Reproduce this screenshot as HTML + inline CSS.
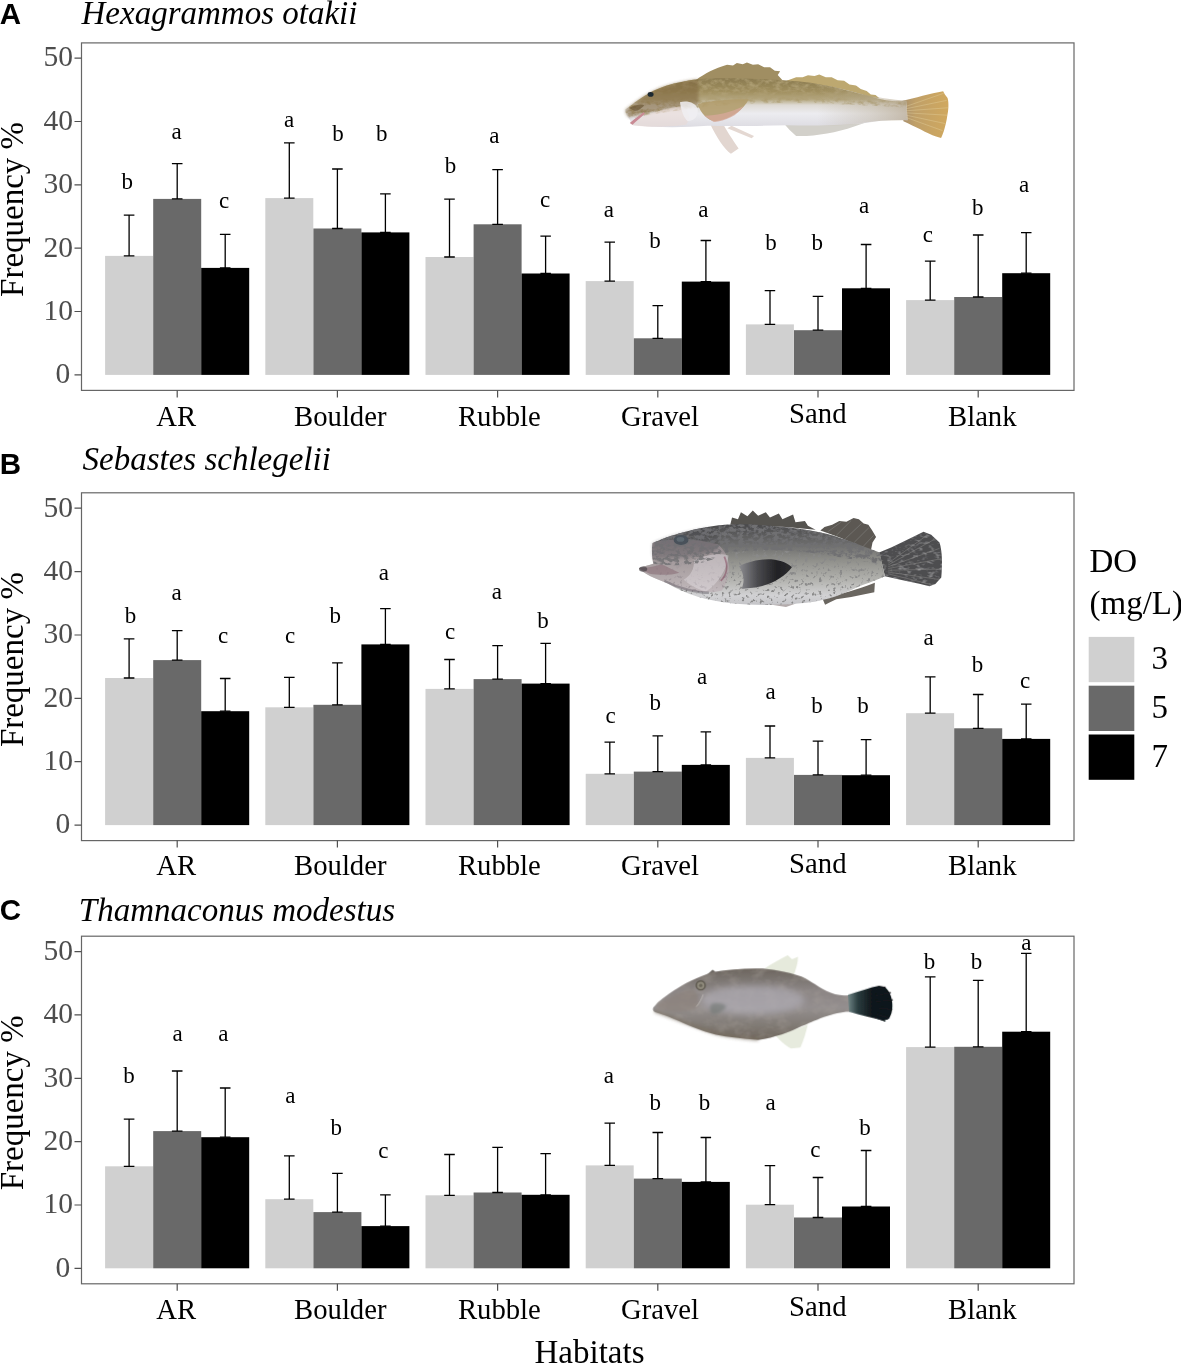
<!DOCTYPE html>
<html lang="en">
<head>
<meta charset="utf-8">
<title>Habitat frequency by dissolved oxygen</title>
<style>
html,body{margin:0;padding:0;background:#fff;}
body{width:1181px;height:1365px;overflow:hidden;}
svg{display:block;}
text{font-family:"Liberation Serif","Times New Roman",serif;fill:#000;}
.tag{font-family:"Liberation Sans",Arial,sans-serif;font-weight:bold;font-size:29.5px;}
.ttl{font-style:italic;font-size:33px;}
.ytl{font-size:33px;text-anchor:middle;}
.xtl{font-size:33px;text-anchor:middle;}
.ytk{font-size:29.5px;fill:#4d4d4d;text-anchor:end;}
.xtk{font-size:28.7px;text-anchor:middle;}
.let{font-size:23px;text-anchor:middle;}
.lgt{font-size:33px;}
.eb{fill:none;stroke:#000;stroke-width:1.3;}
.pb{fill:none;stroke:#666;stroke-width:1.2;}
.tk{fill:none;stroke:#505050;stroke-width:1.2;}
</style>
</head>
<body>
<svg width="1181" height="1365" viewBox="0 0 1181 1365">
<rect width="1181" height="1365" fill="#fff"/>
<defs>
<filter id="soft" x="-5%" y="-10%" width="110%" height="120%"><feGaussianBlur stdDeviation="2.4"/></filter>
<filter id="soft2" x="-30%" y="-30%" width="160%" height="160%"><feGaussianBlur stdDeviation="14"/></filter>
<filter id="soft3" x="-30%" y="-30%" width="160%" height="160%"><feGaussianBlur stdDeviation="6"/></filter>
<filter id="motA" x="0" y="0" width="100%" height="100%">
<feTurbulence type="fractalNoise" baseFrequency="0.045 0.07" numOctaves="3" seed="7"/>
<feColorMatrix type="matrix" values="0 0 0 0 0.42  0 0 0 0 0.34  0 0 0 0 0.17  2.6 0 0 0 -1.05"/>
<feComposite in2="SourceGraphic" operator="in"/>
</filter>
<filter id="motB" x="0" y="0" width="100%" height="100%">
<feTurbulence type="fractalNoise" baseFrequency="0.06 0.08" numOctaves="3" seed="11"/>
<feColorMatrix type="matrix" values="0 0 0 0 0.16  0 0 0 0 0.16  0 0 0 0 0.17  4.6 0 0 0 -1.9"/>
<feComposite in2="SourceGraphic" operator="in"/>
</filter>
<filter id="spkB" x="0" y="0" width="100%" height="100%">
<feTurbulence type="fractalNoise" baseFrequency="0.085" numOctaves="2" seed="5"/>
<feColorMatrix type="matrix" values="0 0 0 0 0.25  0 0 0 0 0.25  0 0 0 0 0.25  6 0 0 0 -3.45"/>
<feComposite in2="SourceGraphic" operator="in"/>
</filter>
<filter id="litB" x="0" y="0" width="100%" height="100%">
<feTurbulence type="fractalNoise" baseFrequency="0.05 0.09" numOctaves="2" seed="21"/>
<feColorMatrix type="matrix" values="0 0 0 0 0.62  0 0 0 0 0.62  0 0 0 0 0.63  2.6 0 0 0 -1.3"/>
<feComposite in2="SourceGraphic" operator="in"/>
</filter>
<filter id="motC" x="0" y="0" width="100%" height="100%">
<feTurbulence type="fractalNoise" baseFrequency="0.02 0.03" numOctaves="3" seed="4"/>
<feColorMatrix type="matrix" values="0 0 0 0 0.40  0 0 0 0 0.36  0 0 0 0 0.33  2.0 0 0 0 -0.85"/>
<feComposite in2="SourceGraphic" operator="in"/>
</filter>
<linearGradient id="ga" x1="0" y1="95" x2="0" y2="260" gradientUnits="userSpaceOnUse">
<stop offset="0" stop-color="#8a7a50"/><stop offset="0.28" stop-color="#a08f5f"/><stop offset="0.44" stop-color="#b6a983"/><stop offset="0.55" stop-color="#dedad4"/><stop offset="0.72" stop-color="#ececf0"/><stop offset="1" stop-color="#dddce2"/>
</linearGradient>
<linearGradient id="gap" x1="700" y1="0" x2="1000" y2="0" gradientUnits="userSpaceOnUse"><stop offset="0" stop-color="#b3a68c" stop-opacity="0"/><stop offset="0.6" stop-color="#b3a68c" stop-opacity="0.35"/><stop offset="1" stop-color="#ad9c80" stop-opacity="0.6"/></linearGradient>
<linearGradient id="gat" x1="985" y1="0" x2="1140" y2="0" gradientUnits="userSpaceOnUse">
<stop offset="0" stop-color="#a8906e"/><stop offset="0.3" stop-color="#c0a068"/><stop offset="1" stop-color="#d0a85f"/>
</linearGradient>
<linearGradient id="gb" x1="0" y1="95" x2="0" y2="372" gradientUnits="userSpaceOnUse">
<stop offset="0" stop-color="#48484a"/><stop offset="0.25" stop-color="#6b6b6b"/><stop offset="0.45" stop-color="#8f8f8a"/><stop offset="0.7" stop-color="#b4b4b0"/><stop offset="0.88" stop-color="#d2d2d4"/><stop offset="1" stop-color="#c4c4c8"/>
</linearGradient>
<linearGradient id="gbp" x1="400" y1="0" x2="585" y2="0" gradientUnits="userSpaceOnUse">
<stop offset="0" stop-color="#8e8e92"/><stop offset="0.35" stop-color="#4a4a4e"/><stop offset="0.7" stop-color="#222225"/><stop offset="1" stop-color="#2e2e30"/>
</linearGradient>
<linearGradient id="gc" x1="0" y1="115" x2="0" y2="405" gradientUnits="userSpaceOnUse">
<stop offset="0" stop-color="#6c655e"/><stop offset="0.3" stop-color="#8b8584"/><stop offset="0.55" stop-color="#948f8f"/><stop offset="0.8" stop-color="#817b75"/><stop offset="1" stop-color="#70675e"/>
</linearGradient>
<linearGradient id="gct" x1="890" y1="0" x2="985" y2="0" gradientUnits="userSpaceOnUse">
<stop offset="0" stop-color="#6b8080"/><stop offset="0.4" stop-color="#2a3c40"/><stop offset="1" stop-color="#11171a"/>
</linearGradient>
</defs>
<!-- Hexagrammos otakii -->
<g transform="translate(610 50) scale(0.29638)" filter="url(#soft)">
<path d="M290,101C320,80 352,62 395,50L415,52L428,44L448,48L462,42L482,50L500,48L520,58L540,58L556,70L574,72L566,84L582,102Z" fill="#a08e62"/>
<path d="M596,104L628,92L650,92L668,85L690,88L706,83L728,92L748,92L768,102L790,104L808,116L830,120L846,132L866,138L880,150L896,152L908,162L880,160C800,130 700,112 596,108Z" fill="#bda86f"/>
<path d="M588,250L606,270L628,290C690,292 760,280 824,258L895,234Z" fill="#d2d0ca"/>
<path d="M338,250C358,292 386,336 408,350L434,332C412,300 396,276 384,254Z" fill="#e2d6d0"/>
<path d="M396,264L478,298L486,290L410,256Z" fill="#e4d8d2"/>
<path d="M985,172C1030,162 1080,146 1124,139L1130,150L1139,162C1144,180 1142,205 1138,222C1134,250 1126,280 1117,297L1100,292C1070,280 1030,258 990,240Z" fill="url(#gat)"/>
<path d="M52,202C90,170 120,152 150,136C200,113 260,101 320,97C420,93 540,99 640,106C740,116 840,146 905,164C940,173 965,176 1000,170L1004,237C965,236 925,236 885,243C800,255 700,256 600,254C500,256 400,258 330,256C250,262 150,262 78,254C68,250 72,240 64,232C56,218 50,210 52,202Z" fill="url(#ga)"/>
<path d="M150,136C200,113 260,101 320,97C420,93 540,99 640,106C740,116 840,146 905,164C940,173 965,176 1000,171L1000,194C900,190 760,180 640,178C520,178 380,185 290,196C220,205 150,215 70,232C58,218 50,210 52,202C90,170 120,152 150,136Z" fill="#000" filter="url(#motA)"/>
<path d="M700,110C800,135 900,166 1000,171L1004,237C960,236 900,238 850,246C800,254 750,255 700,256Z" fill="url(#gap)"/>
<path d="M52,202C90,170 120,152 150,136C190,118 240,106 296,99C300,130 300,160 296,186C240,192 150,205 62,228C56,218 50,210 52,202Z" fill="#80683f" opacity="0.6" filter="url(#soft3)"/>
<path d="M66,246C110,222 170,200 240,190C268,205 276,232 256,252C180,262 110,260 78,254Z" fill="#ead8d4" opacity="0.55"/>
<path d="M236,176C262,170 290,178 296,200C298,222 288,238 262,240C246,225 240,200 236,176Z" fill="#f0eef2" opacity="0.85"/>
<path d="M296,182C340,170 410,165 468,166C452,200 410,232 356,240C330,238 306,215 296,182Z" fill="#b19c6c" opacity="0.9"/>
<path d="M318,222C360,222 410,210 450,190C430,222 390,240 350,243Z" fill="#d6a898" opacity="0.8"/>
<path d="M67,246C82,232 100,222 113,210L118,214C106,226 90,238 76,252Z" fill="#c98a94"/>
<path d="M64,196C80,186 100,182 116,186C108,196 96,204 84,206Z" fill="#6e5a3a" opacity="0.7"/>
<ellipse cx="137" cy="150" rx="10" ry="8" fill="#1f2930"/>
<g stroke="#e6d3a0" stroke-width="2.4" opacity="0.55" fill="none">
<path d="M1000,190L1126,146M1000,198L1136,170M1000,205L1140,195M1000,212L1138,220M1000,220L1130,248M1000,228L1122,272"/>
</g>
</g>
<!-- Sebastes schlegelii -->
<g transform="translate(620 495) scale(0.29638)" filter="url(#soft)">
<path d="M372,100L378,76L398,82L408,58L430,72L448,52L466,70L492,58L506,76L536,62L548,82L584,66L592,92L624,88L634,104L660,117L560,108Z" fill="#55524f"/>
<path d="M676,120L690,108L716,100L740,88L764,90L788,78L806,82L822,96L838,100L850,118L864,142L852,160L846,190C800,166 740,142 676,120Z" fill="#5b5853"/>
<path d="M874,194C930,172 980,146 1024,124L1050,134L1078,160C1088,190 1088,240 1084,278L1064,300L1044,308C1000,296 950,288 894,274Z" fill="#4d4d4f"/>
<path d="M874,194C930,172 980,146 1024,124L1050,134L1078,160C1088,190 1088,240 1084,278L1064,300L1044,308C1000,296 950,288 894,274Z" fill="#000" filter="url(#litB)" opacity="0.55"/>
<path d="M682,347L692,370L712,360L730,352L780,344L858,328L860,296C800,318 750,336 682,347Z" fill="#6b6660"/>
<path d="M420,356L560,378L594,366L480,350Z" fill="#b3abab"/>
<path d="M64,247C80,240 100,236 112,232C108,208 106,184 110,162C160,140 220,120 300,107C360,98 420,97 480,102C560,107 640,117 700,132C770,152 830,177 876,194L894,274C870,285 840,296 800,311C740,341 680,361 600,366C520,373 440,372 380,366C300,358 220,336 160,298C120,282 80,266 64,247Z" fill="url(#gb)"/>
<path d="M110,162C160,140 220,120 300,107C360,98 420,97 480,102C560,107 640,117 700,132C770,152 830,177 876,194L884,232C800,222 700,200 600,190C500,184 420,186 350,196C280,200 200,200 112,214C108,196 106,180 110,162Z" fill="#000" filter="url(#motB)"/>
<path d="M110,200C200,196 300,200 350,196C420,186 500,184 600,190C700,200 800,222 884,232L894,274C870,285 840,296 800,311C740,341 680,361 600,366C520,373 440,372 380,366C300,358 220,336 160,298C130,270 112,240 110,200Z" fill="#000" filter="url(#spkB)"/>
<path d="M64,247C80,240 100,236 112,232C108,208 106,184 110,162C170,144 250,146 330,166C372,200 384,262 344,322C284,338 204,322 160,298C120,282 80,266 64,247Z" fill="#b7a6ae" opacity="0.5"/>
<path d="M110,162C160,140 220,122 300,110C330,130 340,160 330,182C280,210 200,212 112,216C108,196 106,180 110,162Z" fill="#3c3c42" opacity="0.3" filter="url(#soft3)"/>
<path d="M250,220C290,200 340,196 366,204C362,250 330,300 290,326C260,318 230,300 215,286C240,270 250,250 250,220Z" fill="#e6e2e6" opacity="0.42"/>
<path d="M352,208C366,240 360,270 340,290" stroke="#7a3850" stroke-width="6" fill="none" opacity="0.45"/>
<path d="M64,247C90,246 118,242 140,234L200,262C170,272 130,270 100,266Z" fill="#8a7078" opacity="0.6"/>
<ellipse cx="78" cy="250" rx="14" ry="9" fill="#4a4448" opacity="0.7"/>
<path d="M150,290C200,316 260,330 300,330" stroke="#55505a" stroke-width="8" fill="none" opacity="0.4"/>
<path d="M110,162C160,140 220,122 300,110C340,130 350,170 340,200C300,236 200,244 114,232C108,208 106,184 110,162Z" fill="#000" filter="url(#motB)" opacity="0.8"/>
<path d="M402,240C430,226 470,215 510,217C545,220 570,232 580,244C560,272 520,297 480,307C450,314 425,316 410,316C422,292 418,264 402,240Z" fill="url(#gbp)"/>
<ellipse cx="206" cy="152" rx="25" ry="17" fill="#48515a"/>
<ellipse cx="204" cy="150" rx="13" ry="8" fill="#76828c" opacity="0.45"/>
<g stroke="#9a9896" stroke-width="2.6" opacity="0.5" fill="none">
<path d="M905,230L1030,140M905,236L1060,150M905,242L1078,180M905,248L1084,215M905,254L1084,250M905,260L1076,285M905,266L1050,302"/>
<path d="M700,125L745,92M730,136L780,86M760,148L815,96M790,160L840,110M820,174L856,136"/>
</g>
</g>
<!-- Thamnaconus modestus -->
<g transform="translate(630 940) scale(0.24558)" filter="url(#soft)">
<path d="M548,116C580,95 610,78 642,62L660,78L684,68C684,95 676,115 668,140Z" fill="#e6eadc"/>
<path d="M586,382C610,410 634,432 656,442L694,438C708,405 716,378 724,344C680,364 630,378 586,382Z" fill="#e7ebde"/>
<path d="M312,142L336,121L347,128L334,144Z" fill="#6a655f"/>
<path d="M95,275C120,245 150,225 180,205C220,178 270,152 340,130C400,120 470,114 540,116C610,123 660,135 700,150C740,170 770,193 800,208C830,222 860,230 895,224L896,292C870,290 830,300 790,313C750,328 725,340 700,350C650,375 590,397 522,407C460,402 400,396 350,386C290,371 240,350 200,331C160,312 120,300 100,293C92,288 92,281 95,275Z" fill="url(#gc)"/>
<path d="M95,275C120,245 150,225 180,205C220,178 270,152 340,130C400,120 470,114 540,116C610,123 660,135 700,150C740,170 770,193 800,208C830,222 860,230 895,224L896,292C870,290 830,300 790,313C750,328 725,340 700,350C650,375 590,397 522,407C460,402 400,396 350,386C290,371 240,350 200,331C160,312 120,300 100,293C92,288 92,281 95,275Z" fill="#000" filter="url(#motC)" opacity="0.45"/>
<ellipse cx="500" cy="245" rx="210" ry="60" fill="#b4b1ba" opacity="0.6" filter="url(#soft2)"/>
<path d="M100,290C160,310 240,345 350,380C400,392 460,400 522,405" stroke="#7a6f60" stroke-width="14" fill="none" opacity="0.5" filter="url(#soft3)"/>
<path d="M112,262C150,236 200,212 250,200C282,222 290,250 268,280C220,296 160,296 112,282Z" fill="#8b8078" opacity="0.55" filter="url(#soft3)"/>
<path d="M330,262C350,252 380,256 392,270C380,292 352,306 334,300C324,288 324,272 330,262Z" fill="#6f7672" opacity="0.6" filter="url(#soft3)"/>
<path d="M888,223C930,210 980,192 1014,186L1036,190C1056,205 1066,230 1068,258C1070,290 1062,312 1050,324L1030,328C990,318 940,305 892,292Z" fill="url(#gct)"/>
<g stroke="#141a1e" stroke-width="5" fill="none"><path d="M1000,200L1040,192M1000,225L1062,214M1000,250L1070,244M1000,275L1068,282M1000,300L1056,318M990,312L1040,330"/></g>
<path d="M298,222C292,240 282,258 270,272" stroke="#c9c4c0" stroke-width="4" fill="none" opacity="0.7"/>
<circle cx="288" cy="185" r="18" fill="#8f8a7c" stroke="#5d594f" stroke-width="6"/>
<circle cx="288" cy="185" r="7" fill="#6b665a"/>
</g>

<g class="panel">
<text class="tag" x="-0.3" y="24.1">A</text>
<text class="ttl" x="81.5" y="24.4">Hexagrammos otakii</text>
<text class="ytl" transform="translate(23.2 209.4) rotate(-90)">Frequency %</text>
<rect x="105.1" y="255.9" width="48" height="119" fill="#d0d0d0"/>
<rect x="153.2" y="198.9" width="48" height="176" fill="#696969"/>
<rect x="201.2" y="267.9" width="48" height="107" fill="#000000"/>
<rect x="265.3" y="198.1" width="48" height="176.8" fill="#d0d0d0"/>
<rect x="313.4" y="228.5" width="48" height="146.4" fill="#696969"/>
<rect x="361.4" y="232.4" width="48" height="142.5" fill="#000000"/>
<rect x="425.5" y="257" width="48" height="117.9" fill="#d0d0d0"/>
<rect x="473.6" y="224.3" width="48" height="150.6" fill="#696969"/>
<rect x="521.6" y="273.5" width="48" height="101.4" fill="#000000"/>
<rect x="585.7" y="281.1" width="48" height="93.8" fill="#d0d0d0"/>
<rect x="633.8" y="338.3" width="48" height="36.6" fill="#696969"/>
<rect x="681.8" y="281.6" width="48" height="93.3" fill="#000000"/>
<rect x="745.9" y="324.4" width="48" height="50.5" fill="#d0d0d0"/>
<rect x="794" y="330.2" width="48" height="44.7" fill="#696969"/>
<rect x="842" y="288.3" width="48" height="86.6" fill="#000000"/>
<rect x="906.1" y="300.1" width="48" height="74.8" fill="#d0d0d0"/>
<rect x="954.2" y="297" width="48" height="77.9" fill="#696969"/>
<rect x="1002.2" y="273.2" width="48" height="101.7" fill="#000000"/>
<path class="eb" d="M123.8 215.1H134.4M123.8 255.9H134.4M129.1 215.1V255.9M171.9 163.7H182.5M171.9 198.9H182.5M177.2 163.7V198.9M219.9 234.4H230.5M219.9 267.9H230.5M225.2 234.4V267.9M284 142.8H294.6M284 198.1H294.6M289.3 142.8V198.1M332.1 169H342.7M332.1 228.5H342.7M337.4 169V228.5M380.1 193.9H390.7M380.1 232.4H390.7M385.4 193.9V232.4M444.2 199.2H454.8M444.2 257H454.8M449.5 199.2V257M492.3 169.6H502.9M492.3 224.3H502.9M497.6 169.6V224.3M540.4 236.1H550.9M540.4 273.5H550.9M545.6 236.1V273.5M604.5 242.2H615M604.5 281.1H615M609.8 242.2V281.1M652.5 305.6H663.1M652.5 338.3H663.1M657.8 305.6V338.3M700.6 240.5H711.1M700.6 281.6H711.1M705.9 240.5V281.6M764.7 290.6H775.2M764.7 324.4H775.2M770 290.6V324.4M812.7 296.4H823.3M812.7 330.2H823.3M818 296.4V330.2M860.8 244.5H871.4M860.8 288.3H871.4M866.1 244.5V288.3M924.9 261.2H935.5M924.9 300.1H935.5M930.2 261.2V300.1M972.9 235H983.5M972.9 297H983.5M978.2 235V297M1021 232.7H1031.5M1021 273.2H1031.5M1026.2 232.7V273.2"/>
<text class="let" x="127.2" y="188.9">b</text>
<text class="let" x="176.6" y="138.6">a</text>
<text class="let" x="224.1" y="207.6">c</text>
<text class="let" x="289.2" y="127.1">a</text>
<text class="let" x="338.1" y="141.4">b</text>
<text class="let" x="381.7" y="141.4">b</text>
<text class="let" x="450.5" y="173.2">b</text>
<text class="let" x="494.4" y="142.5">a</text>
<text class="let" x="545.2" y="207">c</text>
<text class="let" x="608.9" y="216.8">a</text>
<text class="let" x="655" y="247.5">b</text>
<text class="let" x="703.4" y="216.8">a</text>
<text class="let" x="771.1" y="249.8">b</text>
<text class="let" x="817.2" y="249.8">b</text>
<text class="let" x="864.1" y="212.9">a</text>
<text class="let" x="927.8" y="241.9">c</text>
<text class="let" x="977.8" y="214.6">b</text>
<text class="let" x="1024.2" y="192.2">a</text>
<rect class="pb" x="81.5" y="42.9" width="992.5" height="347.5"/>
<text class="ytk" x="70.3" y="383.2">0</text>
<text class="ytk" x="73.1" y="319.8">10</text>
<text class="ytk" x="73.1" y="256.5">20</text>
<text class="ytk" x="73.1" y="193.1">30</text>
<text class="ytk" x="73.1" y="129.8">40</text>
<text class="ytk" x="73.1" y="66.4">50</text>
<text class="xtk" x="176.3" y="425.6">AR</text>
<text class="xtk" x="340.3" y="425.6">Boulder</text>
<text class="xtk" x="499.4" y="425.6">Rubble</text>
<text class="xtk" x="660" y="425.6">Gravel</text>
<text class="xtk" x="817.8" y="423">Sand</text>
<text class="xtk" x="982.3" y="425.6">Blank</text>
<path class="tk" d="M74.5 374.9H81.5M74.5 311.5H81.5M74.5 248.2H81.5M74.5 184.8H81.5M74.5 121.5H81.5M74.5 58.1H81.5M177.2 390.4V397.4M337.4 390.4V397.4M497.6 390.4V397.4M657.8 390.4V397.4M818 390.4V397.4M978.2 390.4V397.4"/>
</g>
<g class="panel">
<text class="tag" x="-0.3" y="474">B</text>
<text class="ttl" x="82.5" y="469.8">Sebastes schlegelii</text>
<text class="ytl" transform="translate(23.2 659.6) rotate(-90)">Frequency %</text>
<rect x="105.1" y="678" width="48" height="147.1" fill="#d0d0d0"/>
<rect x="153.2" y="660.1" width="48" height="165" fill="#696969"/>
<rect x="201.2" y="711.2" width="48" height="113.9" fill="#000000"/>
<rect x="265.3" y="707.3" width="48" height="117.8" fill="#d0d0d0"/>
<rect x="313.4" y="704.8" width="48" height="120.3" fill="#696969"/>
<rect x="361.4" y="644.4" width="48" height="180.7" fill="#000000"/>
<rect x="425.5" y="688.9" width="48" height="136.2" fill="#d0d0d0"/>
<rect x="473.6" y="679.1" width="48" height="146" fill="#696969"/>
<rect x="521.6" y="683.6" width="48" height="141.5" fill="#000000"/>
<rect x="585.7" y="773.8" width="48" height="51.3" fill="#d0d0d0"/>
<rect x="633.8" y="771.6" width="48" height="53.5" fill="#696969"/>
<rect x="681.8" y="764.9" width="48" height="60.2" fill="#000000"/>
<rect x="745.9" y="757.9" width="48" height="67.2" fill="#d0d0d0"/>
<rect x="794" y="774.9" width="48" height="50.2" fill="#696969"/>
<rect x="842" y="775.2" width="48" height="49.9" fill="#000000"/>
<rect x="906.1" y="713.2" width="48" height="111.9" fill="#d0d0d0"/>
<rect x="954.2" y="728.3" width="48" height="96.8" fill="#696969"/>
<rect x="1002.2" y="738.9" width="48" height="86.2" fill="#000000"/>
<path class="eb" d="M123.8 638.9H134.4M123.8 678H134.4M129.1 638.9V678M171.9 630.7H182.5M171.9 660.1H182.5M177.2 630.7V660.1M219.9 678.5H230.5M219.9 711.2H230.5M225.2 678.5V711.2M284 677.4H294.6M284 707.3H294.6M289.3 677.4V707.3M332.1 662.9H342.7M332.1 704.8H342.7M337.4 662.9V704.8M380.1 608.7H390.7M380.1 644.4H390.7M385.4 608.7V644.4M444.2 659.5H454.8M444.2 688.9H454.8M449.5 659.5V688.9M492.3 645.6H502.9M492.3 679.1H502.9M497.6 645.6V679.1M540.4 643.3H550.9M540.4 683.6H550.9M545.6 643.3V683.6M604.5 742.2H615M604.5 773.8H615M609.8 742.2V773.8M652.5 735.8H663.1M652.5 771.6H663.1M657.8 735.8V771.6M700.6 731.9H711.1M700.6 764.9H711.1M705.9 731.9V764.9M764.7 726H775.2M764.7 757.9H775.2M770 726V757.9M812.7 741.1H823.3M812.7 774.9H823.3M818 741.1V774.9M860.8 739.7H871.4M860.8 775.2H871.4M866.1 739.7V775.2M924.9 676.9H935.5M924.9 713.2H935.5M930.2 676.9V713.2M972.9 694.5H983.5M972.9 728.3H983.5M978.2 694.5V728.3M1021 704.2H1031.5M1021 738.9H1031.5M1026.2 704.2V738.9"/>
<text class="let" x="130.5" y="622.6">b</text>
<text class="let" x="176.6" y="599.5">a</text>
<text class="let" x="223" y="642.5">c</text>
<text class="let" x="290" y="643">c</text>
<text class="let" x="335.3" y="623.2">b</text>
<text class="let" x="383.9" y="579.9">a</text>
<text class="let" x="450" y="638.9">c</text>
<text class="let" x="496.9" y="598.9">a</text>
<text class="let" x="543" y="627.7">b</text>
<text class="let" x="610.6" y="723">c</text>
<text class="let" x="655.3" y="710.4">b</text>
<text class="let" x="702" y="683.6">a</text>
<text class="let" x="770.5" y="698.6">a</text>
<text class="let" x="816.9" y="712.6">b</text>
<text class="let" x="863" y="712.6">b</text>
<text class="let" x="928.7" y="645">a</text>
<text class="let" x="977.6" y="671.8">b</text>
<text class="let" x="1025.1" y="688">c</text>
<rect class="pb" x="81.5" y="492.8" width="992.5" height="347.8"/>
<text class="ytk" x="70.3" y="833.4">0</text>
<text class="ytk" x="73.1" y="770">10</text>
<text class="ytk" x="73.1" y="706.6">20</text>
<text class="ytk" x="73.1" y="643.3">30</text>
<text class="ytk" x="73.1" y="579.9">40</text>
<text class="ytk" x="73.1" y="516.5">50</text>
<text class="xtk" x="176.3" y="875.3">AR</text>
<text class="xtk" x="340.3" y="875.3">Boulder</text>
<text class="xtk" x="499.4" y="875.3">Rubble</text>
<text class="xtk" x="660" y="875.3">Gravel</text>
<text class="xtk" x="817.8" y="872.7">Sand</text>
<text class="xtk" x="982.3" y="875.3">Blank</text>
<path class="tk" d="M74.5 825.1H81.5M74.5 761.7H81.5M74.5 698.3H81.5M74.5 635H81.5M74.5 571.6H81.5M74.5 508.2H81.5M177.2 840.6V847.6M337.4 840.6V847.6M497.6 840.6V847.6M657.8 840.6V847.6M818 840.6V847.6M978.2 840.6V847.6"/>
</g>
<g class="panel">
<text class="tag" x="-0.3" y="920.3">C</text>
<text class="ttl" x="78.8" y="920.6">Thamnaconus modestus</text>
<text class="ytl" transform="translate(23.2 1102.8) rotate(-90)">Frequency %</text>
<rect x="105.1" y="1166.3" width="48" height="102" fill="#d0d0d0"/>
<rect x="153.2" y="1131.1" width="48" height="137.2" fill="#696969"/>
<rect x="201.2" y="1137.2" width="48" height="131.1" fill="#000000"/>
<rect x="265.3" y="1199.2" width="48" height="69.1" fill="#d0d0d0"/>
<rect x="313.4" y="1212.1" width="48" height="56.2" fill="#696969"/>
<rect x="361.4" y="1226.1" width="48" height="42.2" fill="#000000"/>
<rect x="425.5" y="1195.3" width="48" height="73" fill="#d0d0d0"/>
<rect x="473.6" y="1192.5" width="48" height="75.8" fill="#696969"/>
<rect x="521.6" y="1194.8" width="48" height="73.5" fill="#000000"/>
<rect x="585.7" y="1165.4" width="48" height="102.9" fill="#d0d0d0"/>
<rect x="633.8" y="1178.6" width="48" height="89.7" fill="#696969"/>
<rect x="681.8" y="1181.9" width="48" height="86.4" fill="#000000"/>
<rect x="745.9" y="1204.7" width="48" height="63.6" fill="#d0d0d0"/>
<rect x="794" y="1217.5" width="48" height="50.8" fill="#696969"/>
<rect x="842" y="1206.5" width="48" height="61.8" fill="#000000"/>
<rect x="906.1" y="1047.1" width="48" height="221.2" fill="#d0d0d0"/>
<rect x="954.2" y="1046.8" width="48" height="221.5" fill="#696969"/>
<rect x="1002.2" y="1031.7" width="48" height="236.6" fill="#000000"/>
<path class="eb" d="M123.8 1119.1H134.4M123.8 1166.3H134.4M129.1 1119.1V1166.3M171.9 1071H182.5M171.9 1131.1H182.5M177.2 1071V1131.1M219.9 1088H230.5M219.9 1137.2H230.5M225.2 1088V1137.2M284 1155.9H294.6M284 1199.2H294.6M289.3 1155.9V1199.2M332.1 1173.3H342.7M332.1 1212.1H342.7M337.4 1173.3V1212.1M380.1 1194.8H390.7M380.1 1226.1H390.7M385.4 1194.8V1226.1M444.2 1154.5H454.8M444.2 1195.3H454.8M449.5 1154.5V1195.3M492.3 1147.3H502.9M492.3 1192.5H502.9M497.6 1147.3V1192.5M540.4 1153.7H550.9M540.4 1194.8H550.9M545.6 1153.7V1194.8M604.5 1123.2H615M604.5 1165.4H615M609.8 1123.2V1165.4M652.5 1132.5H663.1M652.5 1178.6H663.1M657.8 1132.5V1178.6M700.6 1137.5H711.1M700.6 1181.9H711.1M705.9 1137.5V1181.9M764.7 1165.6H775.2M764.7 1204.7H775.2M770 1165.6V1204.7M812.7 1177.5H823.3M812.7 1217.5H823.3M818 1177.5V1217.5M860.8 1150.5H871.4M860.8 1206.5H871.4M866.1 1150.5V1206.5M924.9 976.8H935.5M924.9 1047.1H935.5M930.2 976.8V1047.1M972.9 980.4H983.5M972.9 1046.8H983.5M978.2 980.4V1046.8M1021 953.4H1031.5M1021 1031.7H1031.5M1026.2 953.4V1031.7"/>
<text class="let" x="129.1" y="1083">b</text>
<text class="let" x="177.5" y="1041.1">a</text>
<text class="let" x="223.3" y="1041.1">a</text>
<text class="let" x="290.3" y="1103.4">a</text>
<text class="let" x="336.2" y="1134.7">b</text>
<text class="let" x="383.4" y="1157.9">c</text>
<text class="let" x="608.9" y="1083.3">a</text>
<text class="let" x="655.3" y="1109.6">b</text>
<text class="let" x="704.5" y="1109.6">b</text>
<text class="let" x="770.6" y="1109.9">a</text>
<text class="let" x="815.4" y="1156.7">c</text>
<text class="let" x="864.9" y="1135.1">b</text>
<text class="let" x="929.5" y="969.1">b</text>
<text class="let" x="976.6" y="968.5">b</text>
<text class="let" x="1026.4" y="949.6">a</text>
<rect class="pb" x="81.5" y="936.2" width="992.5" height="347.6"/>
<text class="ytk" x="70.3" y="1276.6">0</text>
<text class="ytk" x="73.1" y="1213.3">10</text>
<text class="ytk" x="73.1" y="1149.9">20</text>
<text class="ytk" x="73.1" y="1086.6">30</text>
<text class="ytk" x="73.1" y="1023.2">40</text>
<text class="ytk" x="73.1" y="959.9">50</text>
<text class="xtk" x="176.3" y="1318.6">AR</text>
<text class="xtk" x="340.3" y="1318.6">Boulder</text>
<text class="xtk" x="499.4" y="1318.6">Rubble</text>
<text class="xtk" x="660" y="1318.6">Gravel</text>
<text class="xtk" x="817.8" y="1316">Sand</text>
<text class="xtk" x="982.3" y="1318.6">Blank</text>
<path class="tk" d="M74.5 1268.3H81.5M74.5 1205H81.5M74.5 1141.6H81.5M74.5 1078.3H81.5M74.5 1014.9H81.5M74.5 951.6H81.5M177.2 1283.8V1290.8M337.4 1283.8V1290.8M497.6 1283.8V1290.8M657.8 1283.8V1290.8M818 1283.8V1290.8M978.2 1283.8V1290.8"/>
</g>
<g class="legend">
<text class="lgt" x="1089.5" y="571.7">DO</text>
<text class="lgt" x="1089.5" y="614.4">(mg/L)</text>
<rect x="1088.7" y="636.9" width="45.6" height="45.3" fill="#d0d0d0"/>
<text class="lgt" x="1151.5" y="668.5">3</text>
<rect x="1088.7" y="685.7" width="45.6" height="45.3" fill="#696969"/>
<text class="lgt" x="1151.5" y="717.5">5</text>
<rect x="1088.7" y="734.5" width="45.6" height="45.3" fill="#000000"/>
<text class="lgt" x="1151.5" y="766.6">7</text>
</g>
<text class="xtl" x="589.5" y="1363">Habitats</text>
</svg>
</body>
</html>
